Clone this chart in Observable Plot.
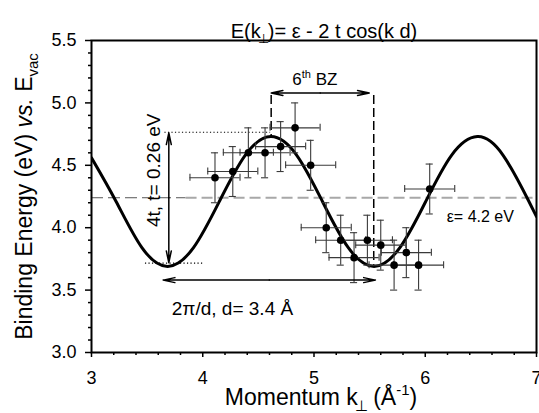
<!DOCTYPE html>
<html><head><meta charset="utf-8">
<script src="https://cdn.jsdelivr.net/npm/d3@7"></script>
<script src="https://cdn.jsdelivr.net/npm/@observablehq/plot@0.6"></script>
<style>body{margin:0;background:#fff}</style>
</head><body><div id="chart"></div>
<script>
// Measured data points (momentum k⊥ in Å^-1, binding energy in eV)
const momentum = [4.11, 4.27, 4.41, 4.56, 4.70, 4.83, 4.97, 5.11, 5.24, 5.36, 5.48, 5.60, 5.72, 5.83, 5.94, 6.04];
const energy   = [4.40, 4.45, 4.60, 4.60, 4.65, 4.80, 4.50, 4.00, 3.90, 3.76, 3.90, 3.86, 3.70, 3.80, 3.70, 4.31];
const momentumErr = [0.225, 0.225, 0.225, 0.225, 0.225, 0.225, 0.225, 0.225, 0.225, 0.225, 0.225, 0.225, 0.225, 0.225, 0.225, 0.225];
const energyErr   = [0.2, 0.2, 0.2, 0.2, 0.2, 0.2, 0.2, 0.2, 0.2, 0.2, 0.2, 0.2, 0.2, 0.2, 0.2, 0.2];

// Tight-binding curve, points
const curveK = [3.00, 3.221, 3.453, 3.685, 3.917, 4.149, 4.381, 4.613, 4.845, 5.076, 5.308, 5.540, 5.772, 6.004, 6.236, 6.468, 6.700, 6.932, 7.00];
const curveE = [4.56, 4.21, 3.84, 3.69, 3.84, 4.21, 4.58, 4.73, 4.58, 4.21, 3.84, 3.69, 3.84, 4.21, 4.58, 4.73, 4.58, 4.21, 4.09];

// Axis ticks
const xTicks = [3, 4, 5, 6, 7];
const xMinorTicks = [3.2, 3.4, 3.6, 3.8, 4.2, 4.4, 4.6, 4.8, 5.2, 5.4, 5.6, 5.8, 6.2, 6.4, 6.6, 6.8];
const yTicks = [3.0, 3.5, 4.0, 4.5, 5.0, 5.5];
const yMinorTicks = [3.1, 3.2, 3.3, 3.4, 3.6, 3.7, 3.8, 3.9, 4.1, 4.2, 4.3, 4.4, 4.6, 4.7, 4.8, 4.9, 5.1, 5.2, 5.3, 5.4];

// Reference lines / annotations (data units)
const epsLevel = 4.24;
const epsDarkK = [3.0, 3.85];
const epsGreyK = [3.85, 7.0];
const bzK = [4.615, 5.537];          // zone boundaries
const bzTopE = 5.06;
const bzBottomE = [4.73, 3.69];
const bzArrowE = 5.08;
const amplitudeK = 3.695;            // 4t arrow
const amplitudeE = [3.72, 4.76];
const dottedTop = {k: [3.66, 4.61], e: 4.765};
const dottedBottom = {k: [3.485, 4.0], e: 3.716};
const periodK = [3.644, 5.552];
const periodE = 3.58;

const titleText = "E(k⊥)= ε - 2 t cos(k d)";
const xLabel = "Momentum k⊥ (Å-1)";
const yLabel = "Binding Energy (eV) vs. Evac";
const annText = ["6th BZ", "ε= 4.2 eV", "2π/d, d= 3.4 Å"];
const annK = [5.007, 6.495, 4.267];
const annE = [5.19, 4.09, 3.35];
const annSize = [17, 16, 19];
const rotText = "4t, t= 0.26 eV";
const rotK = 3.56, rotE = 4.46;

const pts = momentum.map((k, i) => ({k, e: energy[i], dk: momentumErr[i], de: energyErr[i]}));
const curve = curveK.map((k, i) => ({k, e: curveE[i]}));
const ann = annText.map((t, i) => ({t, k: annK[i], e: annE[i], s: annSize[i]}));

const capK = 0.032, capE = 0.028;
const ebColor = "#3a3a3a";

function dblArrow(x1, y1, x2, y2, opts) {
  const mx = (x1 + x2) / 2, my = (y1 + y2) / 2;
  const a = {headLength: 12, headAngle: 24, strokeWidth: 1.5, stroke: "black", ...opts};
  return [
    Plot.arrow([0], {x1: () => mx, y1: () => my, x2: () => x1, y2: () => y1, ...a}),
    Plot.arrow([0], {x1: () => mx, y1: () => my, x2: () => x2, y2: () => y2, ...a})
  ];
}

const chart = Plot.plot({
  width: 539, height: 413,
  marginLeft: 91, marginRight: 3, marginTop: 40, marginBottom: 61,
  x: {domain: [3, 7]},
  y: {domain: [3, 5.5]},
  style: {fontFamily: "'Liberation Sans', Arial, Helvetica, sans-serif", background: "white", color: "black", overflow: "visible"},
  marks: [
    // epsilon line
    Plot.ruleY([epsLevel], {x1: epsDarkK[0], x2: epsDarkK[1], stroke: "#555", strokeWidth: 1, strokeDasharray: "12,5"}),
    Plot.ruleY([epsLevel], {x1: epsGreyK[0], x2: epsGreyK[1], stroke: "#a8a8a8", strokeWidth: 2, strokeDasharray: "11,5"}),
    // dotted guides
    Plot.ruleY([dottedTop.e], {x1: dottedTop.k[0], x2: dottedTop.k[1], stroke: "black", strokeWidth: 1.2, strokeDasharray: "1.2,2.3"}),
    Plot.ruleY([dottedBottom.e], {x1: dottedBottom.k[0], x2: dottedBottom.k[1], stroke: "black", strokeWidth: 1.2, strokeDasharray: "1.2,2.3"}),
    // zone boundaries (dashed)
    Plot.ruleX([bzK[0]], {y1: bzTopE, y2: bzBottomE[0], stroke: "black", strokeWidth: 1.5, strokeDasharray: "9,4"}),
    Plot.ruleX([bzK[1]], {y1: bzTopE, y2: bzBottomE[1], stroke: "black", strokeWidth: 1.5, strokeDasharray: "9,4"}),
    // curve
    Plot.line(curve, {x: "k", y: "e", curve: "natural", stroke: "black", strokeWidth: 3, clip: true}),
    // error bars
    Plot.ruleY(pts, {y: "e", x1: d => d.k - d.dk, x2: d => d.k + d.dk, stroke: ebColor, strokeWidth: 1.1}),
    Plot.ruleX(pts, {x: "k", y1: d => d.e - d.de, y2: d => d.e + d.de, stroke: ebColor, strokeWidth: 1.1}),
    Plot.ruleX(pts, {x: d => d.k - d.dk, y1: d => d.e - capE, y2: d => d.e + capE, stroke: ebColor, strokeWidth: 1.1}),
    Plot.ruleX(pts, {x: d => d.k + d.dk, y1: d => d.e - capE, y2: d => d.e + capE, stroke: ebColor, strokeWidth: 1.1}),
    Plot.ruleY(pts, {y: d => d.e - d.de, x1: d => d.k - capK, x2: d => d.k + capK, stroke: ebColor, strokeWidth: 1.1}),
    Plot.ruleY(pts, {y: d => d.e + d.de, x1: d => d.k - capK, x2: d => d.k + capK, stroke: ebColor, strokeWidth: 1.1}),
    Plot.dot(pts, {x: "k", y: "e", r: 3.8, fill: "black", stroke: "none"}),
    // arrows
    ...dblArrow(bzK[0], bzArrowE, bzK[1] - 0.04, bzArrowE),
    ...dblArrow(amplitudeK, amplitudeE[0], amplitudeK, amplitudeE[1]),
    ...dblArrow(periodK[0], periodE, periodK[1], periodE),
    // annotations
    Plot.text(ann, {x: "k", y: "e", text: "t", fontSize: "s", fill: "black"}),
    Plot.text([rotText], {x: () => rotK, y: () => rotE, rotate: -90, fontSize: 19, fill: "black"}),
    // axes
    Plot.axisX({ticks: xMinorTicks, tickSize: 3, text: null, label: null, strokeWidth: 1.5}),
    Plot.axisX({ticks: xTicks, tickSize: 5, tickPadding: 14, fontSize: 18, tickFormat: d => String(d), label: null, strokeWidth: 1.5}),
    Plot.axisY({ticks: yMinorTicks, tickSize: 3, text: null, label: null, strokeWidth: 1.5}),
    Plot.axisY({ticks: yTicks, tickSize: 6, tickPadding: 9, fontSize: 18, tickFormat: d3.format(".1f"), label: null, strokeWidth: 1.5}),
    Plot.frame({stroke: "black", strokeWidth: 2}),
    // titles
    Plot.text([titleText], {frameAnchor: "top", dy: -17, dx: 10, fontSize: 20, fill: "black"}),
    Plot.text([xLabel], {frameAnchor: "bottom", dy: 52, dx: 7, fontSize: 23, fill: "black"}),
    Plot.text([yLabel], {frameAnchor: "left", textAnchor: "middle", dx: -67, rotate: -90, fontSize: 23, fill: "black"})
  ]
});

function rich(svg, plain, parts, base) {
  const NS = "http://www.w3.org/2000/svg";
  for (const t of svg.querySelectorAll("text")) {
    if (t.textContent !== plain) continue;
    while (t.firstChild) t.removeChild(t.firstChild);
    let shift = 0;
    for (const p of parts) {
      const ts = document.createElementNS(NS, "tspan");
      ts.textContent = p.t;
      const target = p.sub ? 0.28 * base : p.sup ? -0.42 * base : 0;
      if (target !== shift) { ts.setAttribute("dy", (target - shift) + "px"); shift = target; }
      if (p.dx) ts.setAttribute("dx", p.dx + "px");
      if (p.sub || p.sup) ts.setAttribute("font-size", (0.65 * base) + "px");
      if (p.it) ts.setAttribute("font-style", "italic");
      t.appendChild(ts);
    }
  }
}
rich(chart, titleText, [{t: "E(k"}, {t: "⊥", sub: true, dx: -3}, {t: ")= ε - 2 t cos(k d)", dx: -1}], 20);
rich(chart, xLabel, [{t: "Momentum k"}, {t: "⊥", sub: true, dx: -3}, {t: " (Å", dx: -1}, {t: "-1", sup: true}, {t: ")"}], 23);
rich(chart, yLabel, [{t: "Binding Energy (eV) "}, {t: "vs.", it: true}, {t: " E"}, {t: "vac", sub: true}], 23);
rich(chart, "6th BZ", [{t: "6"}, {t: "th", sup: true}, {t: " BZ"}], 17);

document.getElementById("chart").appendChild(chart);
</script>
</body></html>
